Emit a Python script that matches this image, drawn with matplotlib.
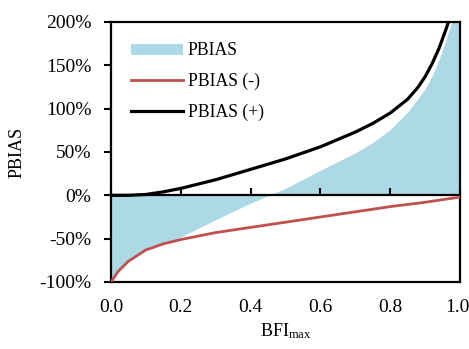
import numpy as np
import matplotlib.pyplot as plt
from matplotlib.patches import Patch
from matplotlib.lines import Line2D
from matplotlib.ticker import FuncFormatter
import matplotlib.transforms as mtransforms

plt.rcParams['font.family'] = ['Liberation Serif', 'DejaVu Serif']
plt.rcParams['mathtext.fontset'] = 'custom'
plt.rcParams['mathtext.rm'] = 'Liberation Serif'
plt.rcParams['mathtext.it'] = 'Liberation Serif:italic'

# PBIAS (shaded)
bfi_fill = [0.0, 0.02, 0.05, 0.1, 0.15, 0.2, 0.3, 0.4, 0.45, 0.5, 0.6, 0.7,
            0.75, 0.8, 0.85, 0.88, 0.9, 0.92, 0.94, 0.96, 0.98, 1.0]
pbias = [-1.0, -0.88, -0.76, -0.63, -0.56, -0.48, -0.28, -0.09, -0.005, 0.08,
         0.29, 0.49, 0.61, 0.76, 0.96, 1.12, 1.23, 1.38, 1.57, 1.80, 2.05, 2.4]

# PBIAS (-)
bfi_neg = [0.0, 0.01, 0.02, 0.05, 0.1, 0.15, 0.2, 0.3, 0.4, 0.5, 0.6, 0.7,
           0.8, 0.9, 1.0]
pbias_neg = [-1.0, -0.94, -0.88, -0.76, -0.63, -0.56, -0.51, -0.43, -0.37,
             -0.31, -0.25, -0.19, -0.13, -0.08, -0.02]

# PBIAS (+)
bfi_pos = [0.0, 0.05, 0.1, 0.15, 0.2, 0.3, 0.4, 0.5, 0.6, 0.65, 0.7, 0.75,
           0.8, 0.85, 0.88, 0.9, 0.92, 0.94, 0.96, 0.97]
pbias_pos = [0.0, 0.0, 0.01, 0.04, 0.08, 0.18, 0.30, 0.42, 0.56, 0.645, 0.73,
             0.83, 0.95, 1.11, 1.25, 1.37, 1.52, 1.70, 1.92, 2.04]

fig = plt.figure(figsize=(4.69, 3.49), dpi=100)
ax = fig.add_axes([0.2367, 0.192, 0.981 - 0.2367, 0.937 - 0.192])

blue = '#ADD8E6'
red = '#C0504D'

ax.fill_between(bfi_fill, pbias, 0, color=blue, lw=0, zorder=1)
ax.plot(bfi_neg, pbias_neg, color=red, lw=2, zorder=3)
ax.plot(bfi_pos, pbias_pos, color='black', lw=2.3, zorder=3)

ax.set_xlim(0, 1)
ax.set_ylim(-1, 2)
xt = np.arange(0, 1.01, 0.2)
ax.set_xticks(xt)
ax.set_yticks(np.arange(-1, 2.01, 0.5))
ax.yaxis.set_major_formatter(FuncFormatter(lambda v, p: '%d%%' % round(v * 100)))
ax.tick_params(axis='y', direction='out', length=5, width=1.5, labelsize=14, pad=9)
for s in ax.spines.values():
    s.set_linewidth(1.6)

# horizontal axis crosses at zero, labels stay at the bottom
ax.spines['bottom'].set_position(('data', 0))
ax.tick_params(axis='x', direction='in', length=5, width=1.5, labelbottom=False)

bot = ax.secondary_xaxis('bottom')
bot.set_xticks(xt)
bot.xaxis.set_major_formatter(FuncFormatter(lambda v, p: '%.1f' % v))
bot.tick_params(length=0, pad=12, labelsize=14)
bot.spines['bottom'].set_linewidth(1.6)
bot.set_xlabel(r'BFI$_{\mathrm{max}}$', fontsize=13, labelpad=4)
labs = bot.get_xticklabels()
labs[-1].set_transform(labs[-1].get_transform() +
                       mtransforms.ScaledTranslation(-3 / 100, 0, fig.dpi_scale_trans))

ax.set_ylabel('PBIAS', fontsize=13, labelpad=10)

handles = [Patch(facecolor=blue, edgecolor='none'),
           Line2D([], [], color=red, lw=2),
           Line2D([], [], color='black', lw=2.3)]
ax.legend(handles, ['PBIAS', 'PBIAS (-)', 'PBIAS (+)'], loc='upper left',
          bbox_to_anchor=(0.028, 0.962), frameon=False, fontsize=12.7,
          handlelength=2.9, handleheight=0.6, labelspacing=0.75, handletextpad=0.3,
          borderaxespad=0.2)

fig.savefig('out.png', dpi=100)
